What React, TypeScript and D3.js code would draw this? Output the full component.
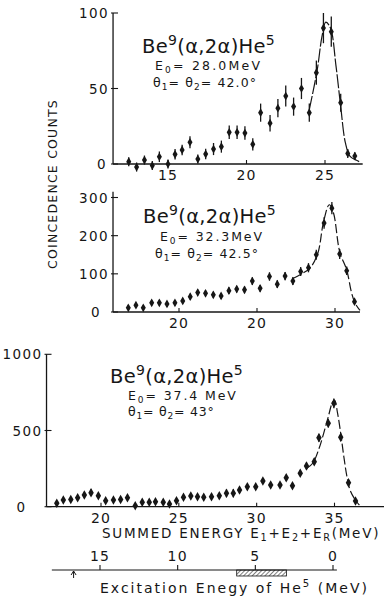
import React, { useRef, useEffect } from "react";
import * as d3 from "d3";

// panel 1: E0 = 28.0 MeV
const p1Energy = [12.5, 13, 13.5, 14, 14.45, 15, 15.45, 15.9, 16.4, 16.9, 17.4, 17.9, 18.4, 18.9, 19.4, 19.9, 20.4, 20.9, 21.5, 22, 22.5, 23, 23.5, 24, 24.45, 24.9, 25.4, 26, 26.45, 26.9];
const p1Counts = [1.5, -2, 2.6, -1, 4.8, 0, 6.4, 9.3, 14.4, 3.3, 6.6, 9.9, 11.5, 21, 21, 20.5, 13, 34, 27, 37, 45, 38, 50, 34, 60.5, 90, 87.6, 40.6, 7, 5.3];
const p1Err = [3, 3, 3, 3, 3.5, 3, 3.5, 3.5, 4, 3, 3.5, 4, 4, 4.5, 4.5, 4.5, 4, 6, 5.5, 6, 7, 6, 7, 6, 8, 10, 10, 6, 3, 2.5];
const p1CurveE = [24.0, 24.5, 24.8, 25.05, 25.35, 25.7, 26.0, 26.3, 26.6, 27.0, 27.3];
const p1CurveC = [36, 62, 84, 94, 90, 65, 38, 14, 5, 2.5, 1];

// panel 2: E0 = 32.3 MeV
const p2Energy = [16.75, 17.24, 17.71, 18.25, 18.74, 19.23, 19.74, 20.24, 20.72, 21.2, 21.7, 22.2, 22.7, 23.2, 23.7, 24.2, 24.7, 25.2, 25.8, 26.3, 26.8, 27.3, 27.8, 28.3, 28.8, 29.3, 29.8, 30.3, 30.75, 31.25];
const p2Counts = [11, 18, 11, 24, 24, 21, 24, 29, 40, 51, 49, 45, 42, 56, 60, 58, 81, 62, 93, 73, 94, 81, 106, 116, 150, 233, 272, 152, 108, 27];
const p2Err = [6, 6, 6, 7, 7, 7, 7, 7, 8, 8, 8, 8, 8, 9, 9, 9, 10, 9, 11, 10, 11, 10, 12, 12, 13, 15, 16, 13, 11, 6];
const p2CurveE = [27.3, 27.9, 28.4, 28.9, 29.25, 29.63, 29.9, 30.3, 30.75, 31.07, 31.3, 31.6];
const p2CurveC = [88, 101, 115, 154, 233, 281, 260, 158, 110, 49, 22, 4];

// panel 3: E0 = 37.4 MeV
const p3Energy = [17.16, 17.58, 18.06, 18.5, 18.93, 19.36, 19.83, 20.3, 20.8, 21.26, 21.7, 22.2, 22.65, 23.1, 23.5, 24.0, 24.4, 24.85, 25.3, 25.77, 26.2, 26.6, 27.1, 27.6, 28.06, 28.5, 28.9, 29.4, 29.94, 30.4, 30.9, 31.5, 31.9, 32.3, 32.8, 33.2, 33.7, 34.0, 34.6, 34.96, 35.4, 35.9, 36.35];
const p3Counts = [22, 44, 48, 59, 77, 92, 72, 39, 44, 48, 59, 7, 29, 29, 33, 29, 18, 39, 62, 70, 66, 62, 66, 72, 88, 88, 110, 131, 131, 169, 142, 142, 190, 138, 219, 267, 295, 452, 547, 678, 455, 157, 37];
const p3Err = [10, 12, 12, 14, 16, 22, 16, 12, 12, 12, 14, 8, 10, 10, 10, 10, 8, 12, 14, 15, 15, 15, 15, 16, 26, 26, 18, 18, 18, 20, 18, 18, 20, 18, 20, 22, 22, 26, 28, 32, 26, 18, 10];
const p3CurveE = [33.2, 33.6, 34.0, 34.3, 34.6, 34.85, 35.0, 35.2, 35.4, 35.6, 35.8, 36.0, 36.3, 36.6];
const p3CurveC = [250, 285, 380, 480, 590, 680, 700, 612, 481, 328, 197, 109, 50, 10];

// ticks
const p1XTicks = [15, 20, 25];
const p1XLabels = ["15", "20", "25"];
const p1YTicks = [0, 50, 100];
const p2XTicks = [20, 25, 30];
const p2XLabels = ["20", "20", "30"]; // printed that way in the original
const p2YTicks = [0, 100, 200, 300];
const p3XTicks = [20, 25, 30, 35];
const p3XLabels = ["20", "25", "30", "35"];
const p3YTicks = [0, 500, 1000];
const exTicks = [15, 10, 5, 0];
const exLevel = 16.7; // arrow marker
const exBand = [6.2, 3.0]; // hatched region

const FONT = "'DejaVu Sans', Verdana, sans-serif";
const INK = "#161616";

// write text with sub/superscripts. parts: [text, kind] kind = "", "sub", "sup"
function richText(g, x, y, parts, size, spacing = 0) {
  const t = g.append("text")
    .attr("x", x).attr("y", y)
    .attr("font-family", FONT)
    .attr("font-size", size)
    .attr("letter-spacing", spacing)
    .attr("fill", INK);
  let shift = 0;
  parts.forEach(([s, kind]) => {
    let target = 0;
    if (kind === "sub") target = size * 0.22;
    if (kind === "sup") target = -size * 0.42;
    t.append("tspan")
      .attr("dy", target - shift)
      .attr("font-size", kind ? size * 0.72 : size)
      .text(s);
    shift = target;
  });
  return t;
}

function drawPanel(svg, p) {
  const g = svg.append("g");
  const x = p.x, y = p.y;

  // axes
  g.append("line")
    .attr("x1", x(p.xStart)).attr("x2", x(p.xEnd))
    .attr("y1", y(0)).attr("y2", y(0))
    .attr("stroke", INK).attr("stroke-width", 1.3);
  g.append("line")
    .attr("x1", x(p.xStart)).attr("x2", x(p.xStart))
    .attr("y1", y(0)).attr("y2", y(p.yTop))
    .attr("stroke", INK).attr("stroke-width", 1.3);

  // y ticks
  p.yTicks.forEach((v) => {
    g.append("line")
      .attr("x1", x(p.xStart) - 2).attr("x2", x(p.xStart) + 5)
      .attr("y1", y(v)).attr("y2", y(v))
      .attr("stroke", INK).attr("stroke-width", 1.1);
    g.append("text")
      .attr("x", x(p.xStart) - 4 - (v === 0 ? p.zeroShift : 0))
      .attr("y", y(v) + 5)
      .attr("text-anchor", "end")
      .attr("font-family", FONT).attr("font-size", 13.5)
      .attr("letter-spacing", 1.4)
      .attr("fill", INK)
      .text(d3.format("d")(v));
  });

  // x ticks
  p.xTicks.forEach((v, i) => {
    g.append("line")
      .attr("x1", x(v)).attr("x2", x(v))
      .attr("y1", y(0)).attr("y2", y(0) - 4)
      .attr("stroke", INK).attr("stroke-width", 1.1);
    g.append("text")
      .attr("x", x(v)).attr("y", y(0) + 16)
      .attr("text-anchor", "middle")
      .attr("font-family", FONT).attr("font-size", 14)
      .attr("letter-spacing", 1.2)
      .attr("fill", INK)
      .text(p.xLabels[i]);
  });

  // fitted curve
  const line = d3.line()
    .x((d) => x(d[0]))
    .y((d) => y(d[1]))
    .curve(d3.curveCatmullRom.alpha(0.5));
  g.append("path")
    .datum(d3.zip(p.curveE, p.curveC))
    .attr("d", line)
    .attr("fill", "none")
    .attr("stroke", INK)
    .attr("stroke-width", 1.2)
    .attr("stroke-dasharray", p.dash);

  // data points with error bars
  const pts = d3.zip(p.energy, p.counts, p.err);
  g.selectAll(".err")
    .data(pts)
    .join("line")
    .attr("x1", (d) => x(d[0])).attr("x2", (d) => x(d[0]))
    .attr("y1", (d) => y(d[1] - d[2])).attr("y2", (d) => y(d[1] + d[2]))
    .attr("stroke", INK).attr("stroke-width", 1.3);
  g.selectAll(".pt")
    .data(pts)
    .join("path")
    .attr("transform", (d) => `translate(${x(d[0])},${y(d[1])})`)
    .attr("d", d3.symbol(d3.symbolDiamond, p.symSize))
    .attr("fill", INK);

  // labels
  richText(g, p.title[0], p.title[1],
    [["Be", ""], ["9", "sup"], ["(α,2α)He", ""], ["5", "sup"]], 19.5, 0.3);
  richText(g, p.e0[0], p.e0[1],
    [["E", ""], ["0", "sub"], ["= " + p.e0Text, ""]], 12.5, p.e0Spacing);
  richText(g, p.th[0], p.th[1],
    [["θ", ""], ["1", "sub"], ["= θ", ""], ["2", "sub"], ["= " + p.thText, ""]], 12.5, p.thSpacing);
}

function App() {
  const svgRef = useRef(null);

  useEffect(() => {
    const svg = d3.select(svgRef.current);
    svg.selectAll("*").remove();

    // hatch pattern for the excitation band
    const pat = svg.append("defs").append("pattern")
      .attr("id", "hatch")
      .attr("patternUnits", "userSpaceOnUse")
      .attr("width", 3).attr("height", 3)
      .attr("patternTransform", "rotate(45)");
    pat.append("line")
      .attr("x1", 0).attr("y1", 0).attr("x2", 0).attr("y2", 3)
      .attr("stroke", INK).attr("stroke-width", 1.1);

    drawPanel(svg, {
      x: d3.scaleLinear().domain([15, 25]).range([168, 325]),
      y: d3.scaleLinear().domain([0, 100]).range([164, 13]),
      xStart: 11.5, xEnd: 27.4, yTop: 100,
      energy: p1Energy, counts: p1Counts, err: p1Err,
      curveE: p1CurveE, curveC: p1CurveC, dash: "14,2",
      xTicks: p1XTicks, xLabels: p1XLabels, yTicks: p1YTicks, zeroShift: 2,
      symSize: 22,
      title: [142, 53], e0: [155, 70], th: [153, 87],
      e0Text: "28.0MeV", thText: "42.0°", e0Spacing: 2.2, thSpacing: 1.1,
    });

    drawPanel(svg, {
      x: d3.scaleLinear().domain([20, 30]).range([179, 335]),
      y: d3.scaleLinear().domain([0, 300]).range([312, 197.5]),
      xStart: 15.77, xEnd: 31.6, yTop: 315,
      energy: p2Energy, counts: p2Counts, err: p2Err,
      curveE: p2CurveE, curveC: p2CurveC, dash: "9,3",
      xTicks: p2XTicks, xLabels: p2XLabels, yTicks: p2YTicks, zeroShift: 8,
      symSize: 22,
      title: [143, 223], e0: [160, 241], th: [155, 258],
      e0Text: "32.3MeV", thText: "42.5°", e0Spacing: 1.9, thSpacing: 1.1,
    });

    drawPanel(svg, {
      x: d3.scaleLinear().domain([20, 35]).range([101, 334.5]),
      y: d3.scaleLinear().domain([0, 1000]).range([506.7, 354.3]),
      xStart: 16.5, xEnd: 38.2, yTop: 1000,
      energy: p3Energy, counts: p3Counts, err: p3Err,
      curveE: p3CurveE, curveC: p3CurveC, dash: "9,3",
      xTicks: p3XTicks, xLabels: p3XLabels, yTicks: p3YTicks, zeroShift: 16,
      symSize: 26,
      title: [110, 383], e0: [128, 400], th: [128, 416],
      e0Text: "37.4 MeV", thText: "43°", e0Spacing: 1.9, thSpacing: 0.8,
    });

    // common y label
    svg.append("text")
      .attr("transform", "translate(57,184) rotate(-90)")
      .attr("text-anchor", "middle")
      .attr("font-family", FONT).attr("font-size", 12.5)
      .attr("letter-spacing", 1.2)
      .attr("fill", INK)
      .text("COINCEDENCE COUNTS");

    // summed energy caption
    richText(svg, 102, 538,
      [["SUMMED ENERGY E", ""], ["1", "sub"], ["+E", ""], ["2", "sub"], ["+E", ""], ["R", "sub"], ["(MeV)", ""]], 13.5, 1.75);

    // excitation energy scale
    const ex = d3.scaleLinear().domain([15, 0]).range([100, 333]);
    const exG = svg.append("g");
    exG.append("line")
      .attr("x1", ex(18.1)).attr("x2", ex(-0.25))
      .attr("y1", 570).attr("y2", 570)
      .attr("stroke", INK).attr("stroke-width", 1.2);
    exG.append("rect")
      .attr("x", ex(exBand[0])).attr("width", ex(exBand[1]) - ex(exBand[0]))
      .attr("y", 570).attr("height", 6)
      .attr("fill", "url(#hatch)")
      .attr("stroke", INK).attr("stroke-width", 0.8);
    exTicks.forEach((v) => {
      exG.append("line")
        .attr("x1", ex(v)).attr("x2", ex(v))
        .attr("y1", 570).attr("y2", 565)
        .attr("stroke", INK).attr("stroke-width", 1.1);
      exG.append("text")
        .attr("x", ex(v)).attr("y", 561)
        .attr("text-anchor", "middle")
        .attr("font-family", FONT).attr("font-size", 14)
        .attr("letter-spacing", 1.2)
        .attr("fill", INK)
        .text(v);
    });
    const ax = ex(exLevel);
    exG.append("path")
      .attr("d", `M${ax},571 L${ax},578 M${ax - 2.5},575 L${ax},571 L${ax + 2.5},575`)
      .attr("fill", "none")
      .attr("stroke", INK).attr("stroke-width", 1);

    richText(svg, 100, 593,
      [["Excitation Enegy of He", ""], ["5", "sup"], [" (MeV)", ""]], 14, 2.0);
  }, []);

  return (
    <svg
      ref={svgRef}
      width={384}
      height={598}
      style={{ position: "absolute", left: 0, top: 0, background: "#fff" }}
    />
  );
}

export default App;
